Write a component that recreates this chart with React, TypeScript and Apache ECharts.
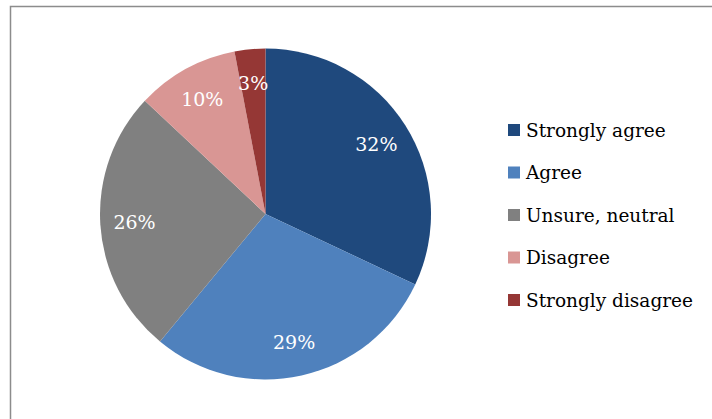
import React, { useEffect, useRef } from "react";
import * as echarts from "echarts";

const categories = ["Strongly agree", "Agree", "Unsure, neutral", "Disagree", "Strongly disagree"];
const values = [32, 29, 26, 10, 3];
const colors = ["#1F497D", "#4F81BD", "#808080", "#D99694", "#953735"];

const FONT = "DejaVu Serif";

export default function App() {
  const ref = useRef<HTMLDivElement>(null);
  useEffect(() => {
    document.body.style.margin = "0";
    const chart = echarts.init(ref.current!, null, { renderer: "svg" });
    const data = categories.map((name, i) => ({ name, value: values[i] }));
    const cx = 265.5;
    const cy = 214;
    const R = 165.5;
    chart.setOption({
      animation: false,
      backgroundColor: "#ffffff",
      color: colors,
      textStyle: { fontFamily: FONT },
      graphic: [
        {
          type: "rect",
          shape: { x: 10.5, y: 6.5, width: 800, height: 500 },
          style: { fill: "none", stroke: "#8c8c8c", lineWidth: 1.5 },
          silent: true,
          z: 100,
        },
      ],
      legend: {
        orient: "vertical",
        left: 503,
        top: 114,
        itemWidth: 12,
        itemHeight: 12,
        itemGap: 20.5,
        icon: "rect",
        textStyle: { fontFamily: FONT, fontSize: 18.5, color: "#000", lineHeight: 22, padding: [0, 0, 0, 1] },
        data: categories,
      },
      series: [
        {
          type: "pie",
          center: [cx, cy],
          radius: [0, R],
          startAngle: 90,
          clockwise: true,
          label: { show: false },
          labelLine: { show: false },
          itemStyle: { borderWidth: 0 },
          data,
        },
        {
          type: "pie",
          center: [cx, cy],
          radius: [R * 0.55, R],
          startAngle: 90,
          clockwise: true,
          silent: true,
          legendHoverLink: false,
          itemStyle: { color: "rgba(0,0,0,0)", borderWidth: 0 },
          label: {
            show: true,
            position: "inside",
            formatter: "{c}%",
            color: "#ffffff",
            fontFamily: FONT,
            fontSize: 19,
          },
          labelLine: { show: false },
          data: categories.map((name, i) => ({ name: name + " ", value: values[i] })),
        },
      ],
    });
    return () => chart.dispose();
  }, []);
  return <div ref={ref} style={{ width: 712, height: 419 }} />;
}
